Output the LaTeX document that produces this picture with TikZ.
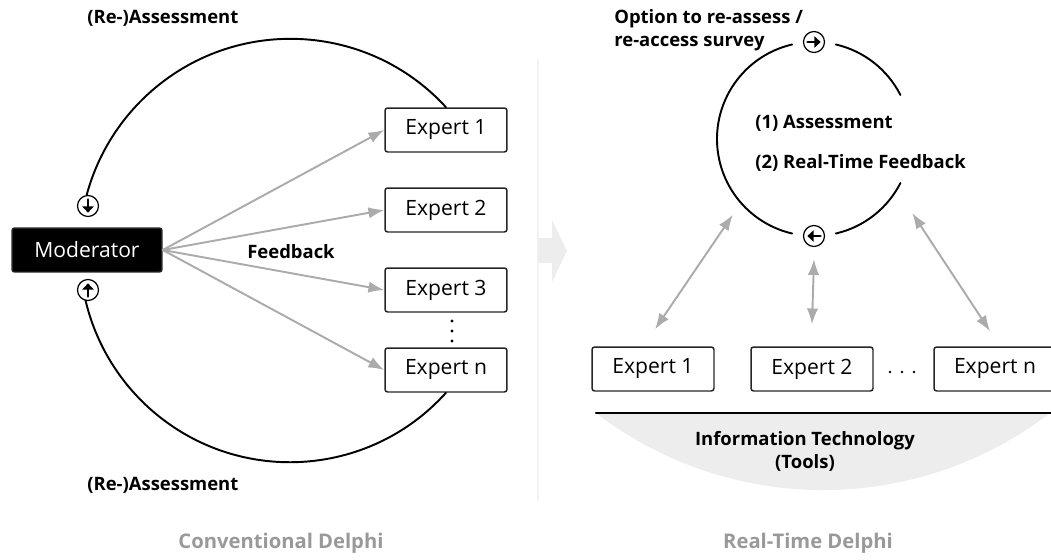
\documentclass[tikz,border=0pt]{standalone}
\usepackage{fontspec}
\setmainfont{Open Sans}
\usetikzlibrary{arrows.meta,calc}

\tikzset{
	expbox/.style={draw=black!85, line width=0.85pt, rounded corners=1.5pt, minimum width=2.44cm, minimum height=0.88cm, inner sep=0pt, font=\fontsize{12}{14}\selectfont},
	modbox/.style={expbox, fill=black, text=white, minimum width=3cm},
	lbl/.style={inner sep=0pt, font=\bfseries\fontsize{10.5}{13.2}\selectfont},
	title/.style={inner sep=0pt, text=black!40, font=\bfseries\fontsize{11.5}{14}\selectfont},
	loop/.style={line width=1.1pt},
	turn/.style={circle, draw, line width=0.7pt, minimum size=0.42cm, inner sep=0pt, fill=white},
	glyph/.style={line width=1.7pt, -{Triangle[length=3.6pt,width=6.4pt]}},
	feed/.style={draw=black!33, line width=1.1pt, -{Latex[length=9pt,width=6.5pt]}},
	both/.style={draw=black!33, line width=1.1pt, {Latex[length=9pt,width=6.5pt]}-{Latex[length=9pt,width=6.5pt]}}
}

\begin{document}
\begin{tikzpicture}[x=0.02cm, y=0.02cm, line cap=round]
		\useasboundingbox (0,0) rectangle (1051,559);
		
		% Divider and transition arrow
		\draw[line width=1.6pt, black!5] (538,59) -- (538,499);
		\fill[black!7] (538,296) -- (552,296) -- (552,277) -- (567,308) -- (552,339) -- (552,321) -- (538,321) -- cycle;
		
		%%% Conventional Delphi
		\node[modbox] (mod) at (87,309) {Moderator};
		\node[expbox] (e1) at (446,429) {Expert 1};
		\node[expbox] (e2) at (446,349) {Expert 2};
		\node[expbox] (e3) at (446,269) {Expert 3};
		\node[expbox] (en) at (446,189) {Expert n};
		\foreach \yy in {218,228,238}
			\fill (452,\yy) circle (1.6);
		
		% Feedback
		\foreach \e in {e1,e2,e3,en}
			\draw[feed] (mod.east) -- (\e.west);
		\node[lbl] (fb) at (291,307) {Feedback};
		
		% Loops back to the moderator
		\draw[loop] (e1.north) arc[start angle=42.5, end angle=165, radius=211];
		\draw[loop] (en.south) arc[start angle=-42, end angle=-167, radius=210];
		\node[turn] (dn) at (88,353) {};
		\node[turn] (up) at (88,269) {};
		\draw[glyph] ([yshift=3.6pt]dn.center) -- ([yshift=-3.8pt]dn.center);
		\draw[glyph] ([yshift=-3.6pt]up.center) -- ([yshift=3.8pt]up.center);
		
		\node[lbl, anchor=west] (ra1) at (87,541) {(Re-)Assessment};
		\node[lbl, anchor=west] (ra2) at (87,74) {(Re-)Assessment};
		\node[title] (t1) at (281,16) {Conventional Delphi};
		
		%%% Real-Time Delphi
		\coordinate (rt) at (814,420);
		\draw[loop] (rt) ++(27:97) arc[start angle=27, end angle=77, radius=97];
		\draw[loop] (rt) ++(103:97) arc[start angle=103, end angle=257, radius=97];
		\draw[loop] (rt) ++(283:97) arc[start angle=283, end angle=333, radius=97];
		\node[turn] (fw) at ($(rt)+(90:97)$) {};
		\node[turn] (bw) at ($(rt)+(270:97)$) {};
		\draw[glyph] ([xshift=-3.6pt]fw.center) -- ([xshift=3.8pt]fw.center);
		\draw[glyph] ([xshift=3.6pt]bw.center) -- ([xshift=-3.8pt]bw.center);
		
		\node[lbl, anchor=west] (st1) at (755,436) {(1) Assessment};
		\node[lbl, anchor=west] (st2) at (755,396) {(2) Real-Time Feedback};
		\node[lbl, anchor=north west, align=left] (opt) at (614,550) {Option to re-assess /\\re-access survey};
		
		% Experts
		\node[expbox] (r1) at (653,190) {Expert 1};
		\node[expbox] (r2) at (812,190) {Expert 2};
		\node[expbox] (rn) at (995,190) {Expert n};
		\foreach \xx in {890,902,914}
			\fill (\xx,187) circle (1.3);
		
		% Links to the survey
		\coordinate (lk1) at ($(rt)+(223:111)$);
		\coordinate (lkn) at ($(rt)+(-37:123)$);
		\draw[both] ([shift={(2,17)}]r1.north) -- (lk1);
		\draw[both] ([yshift=0.44cm]r2.north) -- ([yshift=-0.24cm]bw.south);
		\draw[both] ([shift={(-5,15)}]rn.north) -- (lkn);
		
		% Tools
		\fill[black!7] (596,146) arc[start angle=232.5, end angle=307.5, radius=373] -- cycle;
		\draw[line width=1.2pt] (596,146) -- (1051,146);
		\node[lbl, align=center] (it) at (805,108) {Information Technology\\(Tools)};
		\node[title] (t2) at (808,16) {Real-Time Delphi};
	\end{tikzpicture}
\end{document}
